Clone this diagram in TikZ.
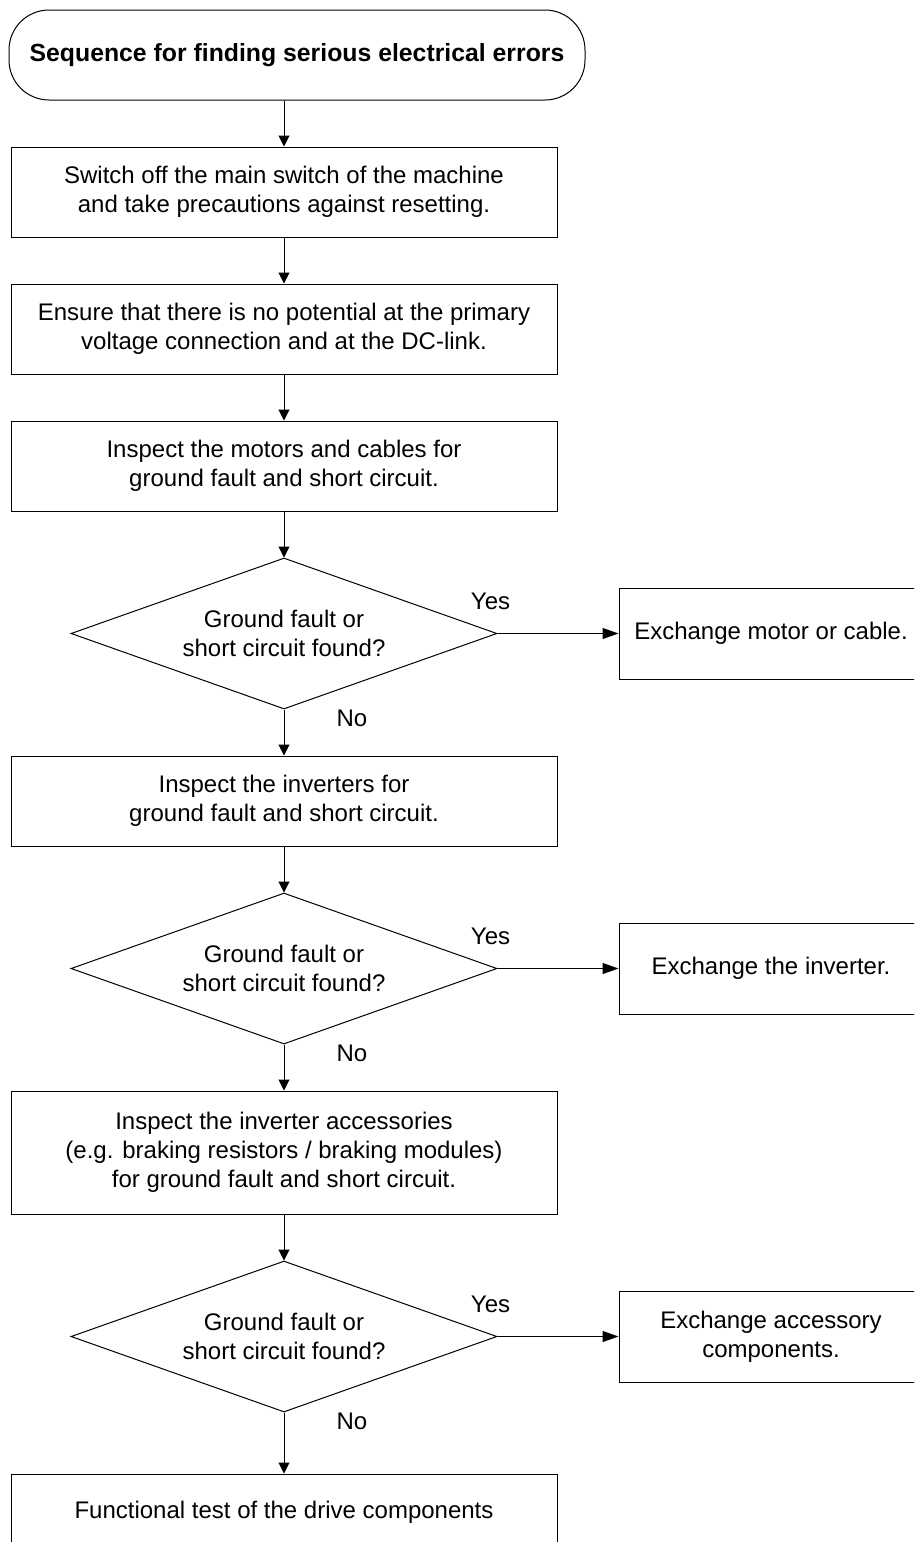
\documentclass[tikz,border=0pt]{standalone}
\usepackage{fontspec}
\setmainfont{Liberation Sans}
\usetikzlibrary{positioning,arrows.meta,shapes.geometric}
\def\boxW{546pt}
\def\boxH{90pt}
\def\sideW{304pt}
\def\lineW{1pt}
\def\flowFont{\fontsize{24}{29}\selectfont}
\tikzset
{
  Terminal/.style =
  {
    draw,
    line width=\lineW,
    rounded corners=40pt,
    minimum width=576pt,
    minimum height=\boxH,
    font=\fontsize{24.8}{29}\selectfont\bfseries,
  },
  Process/.style =
  {
    draw,
    line width=\lineW,
    minimum width=\boxW,
    minimum height=\boxH,
    inner sep=0pt,
  },
  Decision/.style =
  {
    draw,
    diamond,
    aspect=2.82,
    line width=\lineW,
    minimum width=426pt,
    minimum height=151pt,
    inner sep=0pt,
  },
  Action/.style =
  {
    draw,
    line width=\lineW,
    minimum width=\sideW,
    minimum height=91pt,
    inner sep=0pt,
  },
  Flow/.style =
  {
    line width=\lineW,
    -{Triangle[length=11pt,width=11pt]},
  },
  YesFlow/.style =
  {
    line width=\lineW,
    -{Triangle[length=16pt,width=11pt]},
  }
}

\begin{document}
\begin{tikzpicture}
[
  x=1pt, y=-1pt,
  node distance=46pt, % gap between the steps
  every node/.style={align=center, font=\flowFont},
]
\useasboundingbox (0,0) rectangle (914,1542);
\clip (0,0) rectangle (914,1542);

% main column
\node (start) [Terminal] at (297,55) {Sequence for finding serious electrical errors};
\node (switchOff) [Process] at (284,192) {Switch off the main switch of the machine\\and take precautions against resetting.};
\node (noPotential) [Process, below=of switchOff] {Ensure that there is no potential at the primary\\voltage connection and at the DC-link.};
\node (inspMotors) [Process, below=of noPotential] {Inspect the motors and cables for\\ground fault and short circuit.};
\node (motorFault) [Decision, below=of inspMotors] {Ground fault or\\short circuit found?};
\node (inspInverter) [Process, below=of motorFault] {Inspect the inverters for\\ground fault and short circuit.};
\node (inverterFault) [Decision, below=of inspInverter] {Ground fault or\\short circuit found?};
\node (inspAccess) [Process, minimum height=123pt, below=of inverterFault] {Inspect the inverter accessories\\(e.g. braking resistors / braking modules)\\for ground fault and short circuit.};
\node (accessFault) [Decision, below=of inspAccess] {Ground fault or\\short circuit found?};
\node (funcTest) [Process, minimum height=76pt, below=61pt of accessFault] {Functional test of the drive components};

% exchange boxes
\node (exMotor) [Action, right=121pt of motorFault] {Exchange motor or cable.};
\node (exInverter) [Action, right=121pt of inverterFault] {Exchange the inverter.};
\node (exAccess) [Action, right=121pt of accessFault] {Exchange accessory\\components.};

\draw [Flow] (start.south -| switchOff.north) -- (switchOff);
\draw [Flow] (switchOff) -- (noPotential);
\draw [Flow] (noPotential) -- (inspMotors);
\draw [Flow] (inspMotors) -- (motorFault);
\draw [Flow] (motorFault) -- (inspInverter);
\draw [Flow] (inspInverter) -- (inverterFault);
\draw [Flow] (inverterFault) -- (inspAccess);
\draw [Flow] (inspAccess) -- (accessFault);
\draw [Flow] (accessFault) -- (funcTest);
\draw [YesFlow] (motorFault) -- (exMotor);
\draw [YesFlow] (inverterFault) -- (exInverter);
\draw [YesFlow] (accessFault) -- (exAccess);

% Yes / No labels
\foreach \d/\n in {motorFault/1, inverterFault/2, accessFault/3}
{
  \path (\d.east) ++(-7,-32) node (yes\n) {Yes};
  \path (\d.south) ++(68,9) node (no\n) {No};
}
\end{tikzpicture}
\end{document}
